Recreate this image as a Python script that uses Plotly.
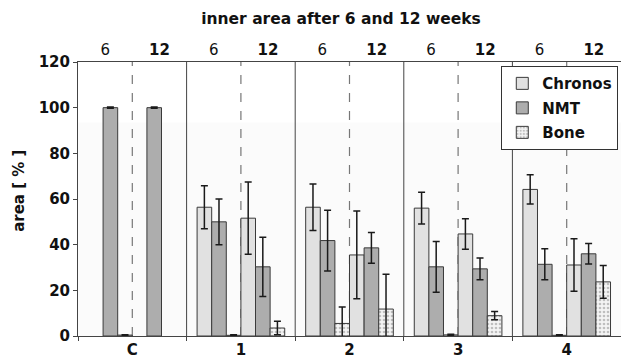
import plotly.graph_objects as go

groups = ["C", "1", "2", "3", "4"]
week_labels = ["6", "<b>12</b>"]
series = ["Chronos", "NMT", "Bone"]

chronos_6 = [None, 56.4, 56.4, 56.0, 64.2]
chronos_6_err = [0, 9.4, 10.2, 7.0, 6.4]
nmt_6 = [100, 50.0, 41.8, 30.3, 31.4]
nmt_6_err = [0.3, 10.0, 13.3, 11.1, 6.8]
bone_6 = [0.4, 0.3, 5.5, 0.5, 0.3]
bone_6_err = [0.2, 0.2, 7.2, 0.3, 0.2]

chronos_12 = [None, 51.6, 35.5, 44.7, 31.1]
chronos_12_err = [0, 15.8, 19.2, 6.7, 11.5]
nmt_12 = [100, 30.3, 38.6, 29.4, 36.0]
nmt_12_err = [0.3, 13.0, 6.7, 4.8, 4.5]
bone_12 = [None, 3.5, 11.8, 8.9, 23.7]
bone_12_err = [0, 3.0, 15.2, 1.8, 7.2]

FONT = "DejaVu Sans"
fills = {"Chronos": "#e1e1e1", "NMT": "#adadad", "Bone": "#f2f2f2"}

fig = go.Figure()

def add_bar(name, vals, errs, show):
    marker = dict(color=fills[name], line=dict(color="#3a3a3a", width=1))
    if name == "Bone":
        marker["pattern"] = dict(shape=".", fgcolor="#8a8a8a", bgcolor="#f4f4f4", size=4, solidity=0.35)
    fig.add_trace(go.Bar(
        x=groups, y=vals, name="<b>%s</b>" % name, showlegend=show, legendgroup=name,
        marker=marker,
        error_y=dict(type="data", array=errs, visible=True, color="#1a1a1a", thickness=1.5, width=3.5),
    ))

add_bar("Chronos", chronos_6, chronos_6_err, True)
add_bar("NMT", nmt_6, nmt_6_err, True)
add_bar("Bone", bone_6, bone_6_err, True)
add_bar("Chronos", chronos_12, chronos_12_err, False)
add_bar("NMT", nmt_12, nmt_12_err, False)
add_bar("Bone", bone_12, bone_12_err, False)

shapes = [
    dict(type="rect", xref="paper", yref="y", x0=0, x1=1, y0=0, y1=93.5,
         fillcolor="#fbfbfb", line=dict(width=0), layer="below"),
]
for i in range(len(groups)):
    shapes.append(dict(type="line", xref="x", yref="paper", x0=i, x1=i, y0=0, y1=1,
                       line=dict(color="#777777", width=1.2, dash="dash"), layer="below"))
for i in range(len(groups) - 1):
    shapes.append(dict(type="line", xref="x", yref="paper", x0=i + 0.5, x1=i + 0.5, y0=0, y1=1,
                       line=dict(color="#444444", width=1), layer="below"))

top_vals = []
top_text = []
for i in range(len(groups)):
    top_vals += [i - 0.25, i + 0.25]
    top_text += week_labels

fig.update_layout(
    width=621, height=362,
    margin=dict(l=78, r=0, t=62, b=26),
    paper_bgcolor="white", plot_bgcolor="white",
    barmode="group", bargap=0.193, bargroupgap=0,
    font=dict(family=FONT, size=15, color="#111111"),
    title=dict(text="<b>inner area after 6 and 12 weeks</b>", x=341 / 621, xanchor="center",
               y=1 - 19 / 362, yanchor="middle", font=dict(size=15.5, family=FONT)),
    xaxis=dict(type="category", range=[-0.5, 4.5], showline=True, linecolor="#444444", linewidth=1,
               ticks="outside", tickson="boundaries", ticklen=4, tickcolor="#444444",
               tickvals=groups, ticktext=["<b>%s</b>" % g for g in groups],
               tickfont=dict(size=15), showgrid=False, zeroline=False),
    xaxis2=dict(overlaying="x", side="top", anchor="y", range=[-0.5, 4.5], showline=True,
                linecolor="#444444", linewidth=1, tickvals=top_vals, ticktext=top_text,
                ticks="", showgrid=False, zeroline=False, tickfont=dict(size=15)),
    yaxis=dict(range=[0, 120], tickvals=[0, 20, 40, 60, 80, 100, 120],
               ticktext=["<b>%d</b>" % v for v in [0, 20, 40, 60, 80, 100, 120]],
               showline=True, linecolor="#444444", linewidth=1, ticks="outside", ticklen=4,
               tickcolor="#444444", showgrid=False, zeroline=False, tickfont=dict(size=15)),
    legend=dict(x=0.995, xanchor="right", y=0.985, yanchor="top", bgcolor="white",
                bordercolor="#333333", borderwidth=1, font=dict(size=15, family=FONT),
                itemwidth=30, tracegroupgap=2),
    shapes=shapes,
    annotations=[dict(text="<b>area [ % ]</b>", textangle=-90, xref="paper", yref="paper",
                      x=(19 - 78) / 543, y=(336.3 - 191) / 274.3, xanchor="center", yanchor="middle",
                      showarrow=False, font=dict(size=15, family=FONT))],
)
fig.add_trace(go.Scatter(x=[None], y=[None], xaxis="x2", showlegend=False, hoverinfo="skip"))

fig.write_html("out.html")
